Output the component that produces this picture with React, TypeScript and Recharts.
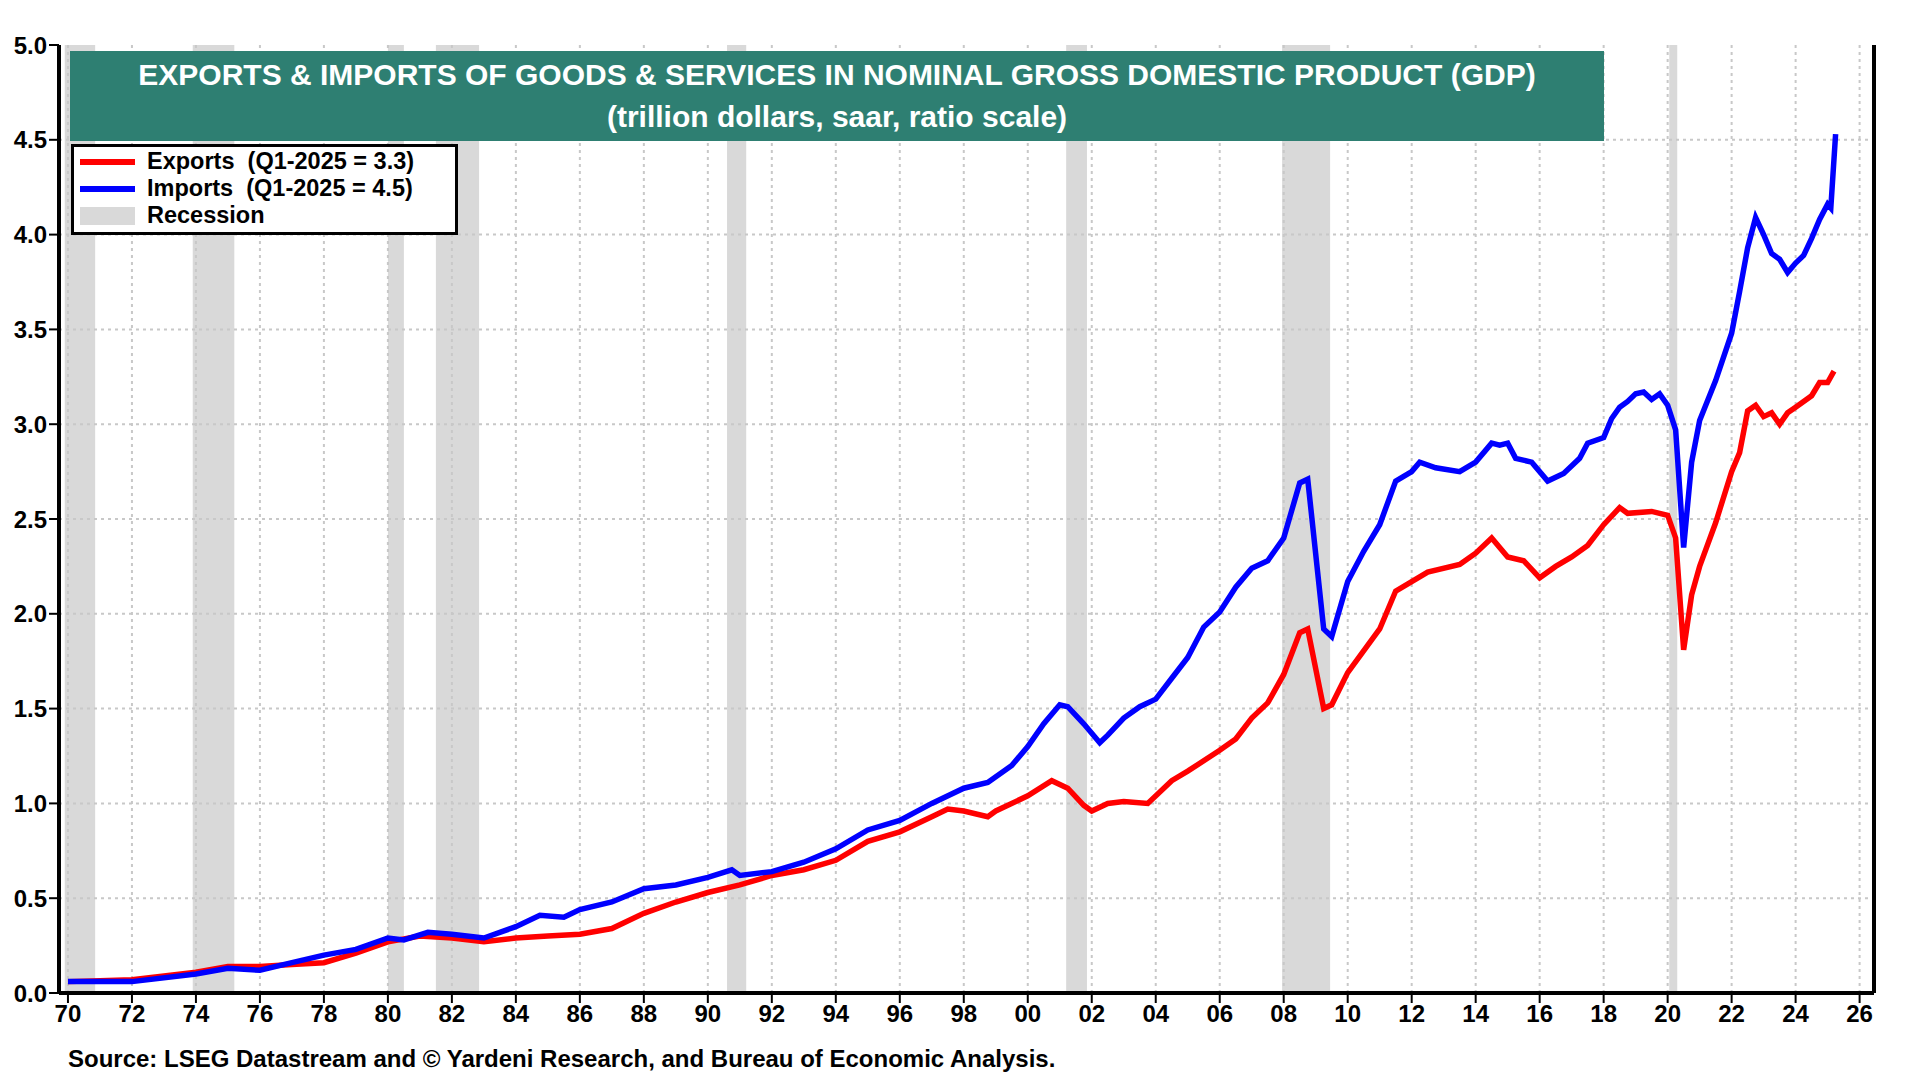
import { LineChart, Line, XAxis, YAxis, ReferenceArea, ReferenceLine } from 'recharts';

// exports, trillion dollars saar (year fraction, value)
const exportYears = [1970, 1972, 1974, 1975, 1976, 1977, 1978, 1979, 1980, 1981, 1982, 1983, 1984, 1985, 1986, 1987, 1988, 1989, 1990, 1991, 1992, 1993, 1994, 1995, 1996, 1997, 1997.5, 1998, 1998.75, 1999, 2000, 2000.75, 2001.25, 2001.75, 2002, 2002.5, 2003, 2003.75, 2004.5, 2005, 2006, 2006.5, 2007, 2007.5, 2008, 2008.5, 2008.75, 2009.25, 2009.5, 2010, 2011, 2011.5, 2012, 2012.5, 2013.5, 2014, 2014.5, 2015, 2015.5, 2016, 2016.5, 2017, 2017.5, 2018, 2018.5, 2018.75, 2019.5, 2020, 2020.25, 2020.5, 2020.75, 2021, 2021.5, 2022, 2022.25, 2022.5, 2022.75, 2023, 2023.25, 2023.5, 2023.75, 2024, 2024.5, 2024.75, 2025, 2025.2];
const exportValues = [0.06, 0.07, 0.11, 0.14, 0.14, 0.15, 0.16, 0.21, 0.27, 0.30, 0.29, 0.27, 0.29, 0.30, 0.31, 0.34, 0.42, 0.48, 0.53, 0.57, 0.62, 0.65, 0.70, 0.80, 0.85, 0.93, 0.97, 0.96, 0.93, 0.96, 1.04, 1.12, 1.08, 0.99, 0.96, 1.0, 1.01, 1.0, 1.12, 1.17, 1.28, 1.34, 1.45, 1.53, 1.68, 1.9, 1.92, 1.50, 1.52, 1.69, 1.92, 2.12, 2.17, 2.22, 2.26, 2.32, 2.40, 2.30, 2.28, 2.19, 2.25, 2.30, 2.36, 2.47, 2.56, 2.53, 2.54, 2.52, 2.40, 1.81, 2.10, 2.25, 2.48, 2.75, 2.85, 3.07, 3.10, 3.04, 3.06, 3.00, 3.06, 3.09, 3.15, 3.22, 3.22, 3.28];

const importYears = [1970, 1972, 1974, 1975, 1976, 1977, 1978, 1979, 1980, 1980.5, 1981.25, 1982, 1983, 1984, 1984.75, 1985.5, 1986, 1987, 1988, 1989, 1990, 1990.75, 1991, 1992, 1993, 1994, 1995, 1996, 1997, 1998, 1998.75, 1999.5, 2000, 2000.5, 2001, 2001.25, 2001.75, 2002.25, 2002.5, 2003, 2003.5, 2004, 2004.5, 2005, 2005.5, 2006, 2006.5, 2007, 2007.5, 2008, 2008.5, 2008.75, 2009.25, 2009.5, 2010, 2010.5, 2011, 2011.5, 2012, 2012.25, 2012.75, 2013.5, 2014, 2014.5, 2014.75, 2015, 2015.25, 2015.75, 2016.25, 2016.75, 2017.25, 2017.5, 2018, 2018.25, 2018.5, 2018.75, 2019, 2019.25, 2019.5, 2019.75, 2020, 2020.25, 2020.5, 2020.75, 2021, 2021.5, 2022, 2022.25, 2022.5, 2022.75, 2023, 2023.25, 2023.5, 2023.75, 2024, 2024.25, 2024.5, 2024.75, 2025, 2025.1, 2025.25];
const importValues = [0.06, 0.06, 0.10, 0.13, 0.12, 0.16, 0.20, 0.23, 0.29, 0.28, 0.32, 0.31, 0.29, 0.35, 0.41, 0.40, 0.44, 0.48, 0.55, 0.57, 0.61, 0.65, 0.62, 0.64, 0.69, 0.76, 0.86, 0.91, 1.00, 1.08, 1.11, 1.20, 1.30, 1.42, 1.52, 1.51, 1.42, 1.32, 1.36, 1.45, 1.51, 1.55, 1.66, 1.77, 1.93, 2.01, 2.14, 2.24, 2.28, 2.40, 2.69, 2.71, 1.92, 1.88, 2.17, 2.33, 2.47, 2.70, 2.75, 2.80, 2.77, 2.75, 2.80, 2.90, 2.89, 2.90, 2.82, 2.80, 2.70, 2.74, 2.82, 2.90, 2.93, 3.03, 3.09, 3.12, 3.16, 3.17, 3.13, 3.16, 3.10, 2.97, 2.35, 2.80, 3.02, 3.23, 3.48, 3.70, 3.93, 4.09, 4.00, 3.90, 3.87, 3.80, 3.85, 3.89, 3.98, 4.08, 4.16, 4.14, 4.53];

const recessionStarts = [1969.9, 1973.9, 1980.0, 1981.5, 1990.6, 2001.2, 2007.95, 2020.05];
const recessionEnds = [1970.85, 1975.2, 1980.5, 1982.85, 1991.2, 2001.85, 2009.45, 2020.3];

const yearTicks = [1970, 1972, 1974, 1976, 1978, 1980, 1982, 1984, 1986, 1988, 1990, 1992, 1994, 1996, 1998, 2000, 2002, 2004, 2006, 2008, 2010, 2012, 2014, 2016, 2018, 2020, 2022, 2024, 2026];
const leftTicks = [0, 0.5, 1, 1.5, 2, 2.5, 3, 3.5, 4, 4.5, 5];
const rightTicks = [0, 1, 2, 3, 4, 5];

const exportsData = exportYears.map((x, i) => ({ x, v: exportValues[i] }));
const importsData = importYears.map((x, i) => ({ x, v: importValues[i] }));
const quarterTicks: number[] = [];
for (let q = 1970; q <= 2026.4; q += 0.25) quarterTicks.push(q);
const leftMinor: number[] = [];
for (let i = 0; i <= 50; i++) leftMinor.push(i / 10);
const rightMinor: number[] = [];
for (let i = 0; i <= 25; i++) rightMinor.push(i / 5);

const FONT = '"Liberation Sans", Arial, sans-serif';
const DOMAIN: [number, number] = [1969.72, 2026.45];
const tickStyle = { fill: '#000', fontSize: 24, fontWeight: 700, fontFamily: FONT };
const GRID = '#c8c8c8';

export default function App() {
  return (
    <div style={{ position: 'absolute', left: 0, top: 0, width: 1920, height: 1080, background: '#fff', fontFamily: FONT }}>
      <LineChart width={1920} height={1080} margin={{ top: 45, right: 0, bottom: 57, left: 9 }}>
        {leftTicks.slice(1, -1).map((t) => (
          <ReferenceLine key={'h' + t} xAxisId="main" yAxisId="left" y={t} stroke={GRID} strokeDasharray="3 4" strokeWidth={2} />
        ))}
        {yearTicks.map((t) => (
          <ReferenceLine key={t} xAxisId="main" yAxisId="left" x={t} stroke={GRID} strokeDasharray="3 4" strokeWidth={2} />
        ))}
        {recessionStarts.map((s, i) => (
          <ReferenceArea key={i} xAxisId="main" yAxisId="left" x1={s} x2={recessionEnds[i]} y1={0} y2={5} fill="#d9d9d9" fillOpacity={1} stroke="none" />
        ))}
        <XAxis xAxisId="main" dataKey="x" type="number" domain={DOMAIN} ticks={yearTicks} allowDataOverflow
          tickFormatter={(v: number) => String(v % 100).padStart(2, '0')} tick={tickStyle}
          axisLine={{ stroke: '#000', strokeWidth: 4 }} tickLine={{ stroke: '#000', strokeWidth: 2 }} tickSize={10} height={30} />
        <XAxis xAxisId="minor" dataKey="x" type="number" domain={DOMAIN} ticks={quarterTicks} allowDataOverflow
          tick={false} axisLine={false} tickLine={{ stroke: '#000', strokeWidth: 2 }} tickSize={5} height={0} />
        <XAxis xAxisId="top" orientation="top" dataKey="x" type="number" domain={DOMAIN} allowDataOverflow
          tick={false} tickLine={false} axisLine={{ stroke: '#000', strokeWidth: 4 }} height={0} />
        <YAxis yAxisId="left" domain={[0, 5]} ticks={leftTicks} tickFormatter={(v: number) => v.toFixed(1)} tick={tickStyle}
          axisLine={{ stroke: '#000', strokeWidth: 4 }} tickLine={{ stroke: '#000', strokeWidth: 2 }} tickSize={10} width={50} />
        <YAxis yAxisId="leftMinor" domain={[0, 5]} ticks={leftMinor} tick={false} axisLine={false}
          tickLine={{ stroke: '#000', strokeWidth: 1.5 }} tickSize={5} width={0} />
        <YAxis yAxisId="right" orientation="right" domain={[0, 5]} ticks={rightTicks} tick={tickStyle}
          axisLine={{ stroke: '#000', strokeWidth: 4 }} tickLine={{ stroke: '#000', strokeWidth: 2 }} tickSize={10} width={46} />
        <YAxis yAxisId="rightMinor" orientation="right" domain={[0, 5]} ticks={rightMinor} tick={false} axisLine={false}
          tickLine={{ stroke: '#000', strokeWidth: 1.5 }} tickSize={5} width={0} />
        <Line xAxisId="main" yAxisId="left" data={exportsData} dataKey="v" stroke="#ff0000" strokeWidth={5.5} dot={false} isAnimationActive={false} />
        <Line xAxisId="main" yAxisId="left" data={importsData} dataKey="v" stroke="#0000ff" strokeWidth={5.5} dot={false} isAnimationActive={false} />
      </LineChart>

      <div style={{ position: 'absolute', left: 70, top: 51, width: 1534, height: 90, background: '#2e7f72', color: '#fff', fontWeight: 700, textAlign: 'center', fontSize: 30, lineHeight: '42px', paddingTop: 3, boxSizing: 'border-box' }}>
        <div>EXPORTS &amp; IMPORTS OF GOODS &amp; SERVICES IN NOMINAL GROSS DOMESTIC PRODUCT (GDP)</div>
        <div>(trillion dollars, saar, ratio scale)</div>
      </div>

      <div style={{ position: 'absolute', left: 71, top: 144, width: 387, height: 91, background: '#fff', border: '3px solid #000', boxSizing: 'border-box', padding: '1px 6px', fontSize: 23.5, fontWeight: 700, lineHeight: '27px' }}>
        {[
          { c: '#ff0000', t: 'Exports  (Q1-2025 = 3.3)', h: 6 },
          { c: '#0000ff', t: 'Imports  (Q1-2025 = 4.5)', h: 6 },
          { c: '#d9d9d9', t: 'Recession', h: 18 },
        ].map((r) => (
          <div key={r.t} style={{ display: 'flex', alignItems: 'center', whiteSpace: 'pre' }}>
            <span style={{ display: 'inline-block', width: 55, height: r.h, background: r.c, marginRight: 12 }} />
            {r.t}
          </div>
        ))}
      </div>

      <div style={{ position: 'absolute', left: 68, top: 1045, fontSize: 24, fontWeight: 700 }}>
        Source: LSEG Datastream and © Yardeni Research, and Bureau of Economic Analysis.
      </div>
    </div>
  );
}
